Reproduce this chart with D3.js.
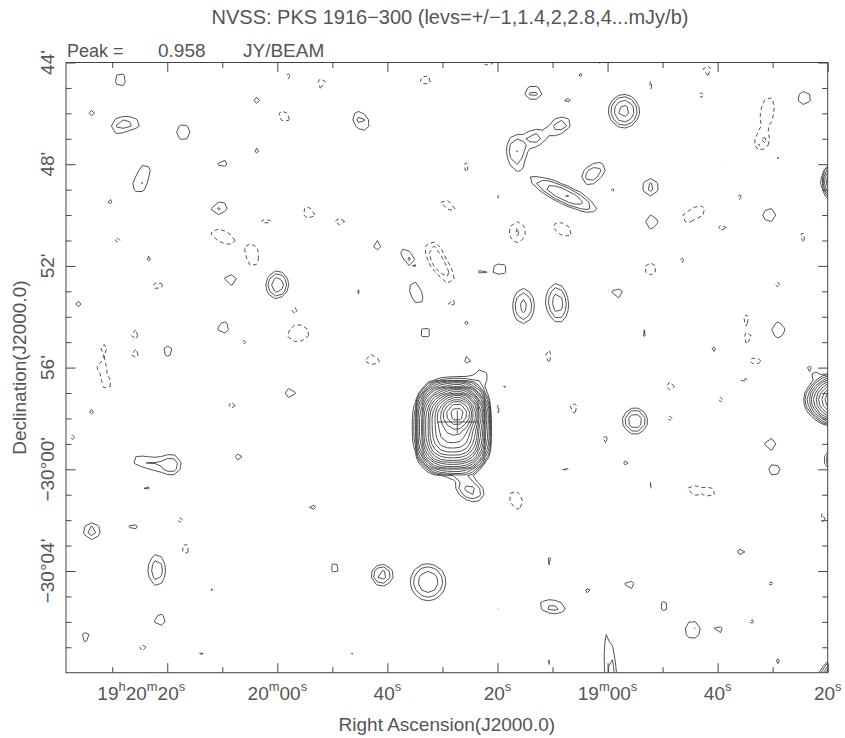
<!DOCTYPE html>
<html>
<head>
<meta charset="utf-8">
<script src="https://cdn.jsdelivr.net/npm/d3@7"></script>
<style>
  body { margin: 0; background: #fff; }
  text { font-family: "Liberation Sans", Arial, sans-serif; fill: #555; }
</style>
</head>
<body>
<div id="chart"></div>
<script>
// RA in seconds of time after 19h18m00s, Dec in arcmin relative to -30d00' (north positive)
const raRange = [158.4, 20];
const decRange = [16, -8];

const raMajorTicks = [140, 120, 100, 80, 60, 40, 20];
const raMinorTicks = [150, 130, 110, 90, 70, 50, 30];
const raTickLabels = ["19^h20^m20^s", "20^m00^s", "40^s", "20^s", "19^m00^s", "40^s", "20^s"];
const decMajorTicks = [16, 12, 8, 4, 0, -4];
const decMinorTicks = [15, 14, 13, 11, 10, 9, 7, 6, 5, 3, 2, 1, -1, -2, -3, -5, -6, -7];
const decTickLabels = ["44'", "48'", "52'", "56'", "\u221230\u00b000'", "\u221230\u00b004'"];

// contour levels, mJy/beam
const levels = [1, 1.4, 2, 2.8, 4, 5.6, 8, 11.3, 16, 22.6, 32, 45.3, 64, 90.5, 128, 181, 256, 362, 512, 724];

const peakFlux = 0.958; // Jy/beam
const targetMark = [87.3, 1.86];

// PKS 1916-300: compact core [ra, dec, peak, maj, min, pa]
// and boxy envelope [ra, dec, peak, a", b", box power, radial power]
const mainCore = [87.3, 2.21, 760, 45, 45, 0];
const mainEnvelope = [88.2, 1.66, 250, 46, 58, 3, 2.5];

// [ra s, dec ', peak mJy/b, FWHM major ", FWHM minor ", PA deg]  (default 45" beam)
const positiveSources = [
  [148.5, 15.31, 1.3, 55, 40, 0], [153.7, 14.02, 1.12], [149.1, 13.42, 1.15],
  [146.4, 13.62, 1.3, 60, 38, 75], [137.1, 13.26, 1.45, 50, 45, 0], [123.7, 14.52, 1.15],
  [123.7, 12.56, 1.1], [129.9, 12.03, 1.2, 50, 38, 120], [144.0, 11.81, 1.15],
  [145.1, 11.14, 1.35], [150.5, 10.55, 1.1], [130.6, 10.24, 1.5, 55, 40, 120],
  [143.3, 8.32, 1.1], [128.4, 7.46, 1.3, 55, 40, 60], [120.0, 7.25, 2.7, 55, 45, 0],
  [156.2, 6.50, 1.12], [129.7, 5.56, 1.35], [139.9, 4.65, 1.25],
  [104.8, 13.70, 1.6, 60, 42, 35], [73.5, 14.80, 1.6, 50, 40, 90], [67.3, 14.56, 1.15, 50, 30, 90],
  [76.6, 12.50, 2.0, 75, 45, 5], [73.1, 13.03, 1.6], [69.5, 13.34, 1.1],
  [67.3, 13.58, 1.45, 55, 35, 75], [67.9, 10.80, 2.9, 140, 34, 64], [63.3, 11.50, 1.5],
  [61.3, 11.85, 1.1], [57.0, 14.09, 3.3, 60, 55, 0],
  [52.2, 11.10, 1.6, 50, 45, 0], [52.0, 9.73, 1.35, 50, 45, 0], [58.2, 6.93, 1.25, 50, 40, 90],
  [30.6, 10.00, 1.42], [24.3, 14.60, 1.42], [39.3, 12.08, 1.08, 50, 30, 90],
  [45.0, 5.40, 1.12, 50, 30, 120], [29.0, 5.48, 1.4, 55, 45, 0], [53.3, 5.36, 1.1],
  [40.8, 4.69, 1.1], [29.0, 12.28, 1.1], [65.0, 15.55, 1.1],
  [17.7, 11.30, 16, 50, 45, 0], [16.8, 2.73, 60, 80, 55, 90], [23.1, 3.91, 1.2, 50, 25, 50],
  [18.4, 0.37, 3, 45, 45, 0], [17.3, -8.48, 15, 70, 60, 0], [59.3, -8.29, 1.8, 240, 30, 5],
  [55.0, 1.90, 2.8, 50, 48, 0], [30.4, 1.00, 1.3], [29.7, -0.03, 1.3],
  [139.1, 0.17, 1.8, 50, 45, 0], [145.0, 0.33, 1.25, 60, 35, 80], [142.0, 0.22, 0.8],
  [143.9, -0.70, 1.1], [127.0, 0.48, 1.15], [113.7, -1.48, 1.12], [117.7, 3.00, 1.25],
  [153.7, -2.43, 1.7], [146.2, -2.27, 1.15], [141.9, -3.96, 1.8, 80, 45, 0],
  [141.3, -5.93, 1.3], [125.3, -3.13, 1.08, 40, 25, 90], [109.5, -3.88, 1.2],
  [101.0, -4.16, 2.4], [92.6, -4.43, 2.8, 72, 68, 0], [70.4, -3.61, 1.12],
  [70.0, -5.41, 1.6, 75, 40, 80], [63.7, -4.75, 1.2], [56.0, -4.55, 1.2],
  [49.7, -5.38, 1.2], [44.6, -6.32, 1.5, 55, 45, 0], [39.8, -6.32, 1.15],
  [35.7, -3.25, 1.15], [42.6, -4.43, 1.08, 55, 20, 40], [154.8, -6.59, 1.2],
  [106.4, -7.26, 1.06, 45, 20, 130], [29.0, -7.58, 1.1], [153.7, 2.29, 1.1],
  [78.6, 3.20, 1.1], [97.1, 3.04, 1.1], [85.5, 4.34, 1.1],
  [85.7, 5.79, 1.1], [105.1, 6.97, 1.1, 50, 25, 0], [102.0, 8.82, 1.25, 50, 35, 40],
  [96.2, 8.35, 1.5, 65, 30, 40], [83.1, 7.80, 1.04], [79.3, 7.88, 1.25],
  [94.8, 6.93, 1.4, 80, 40, 20], [75.3, 6.42, 2.3, 75, 45, 0], [69.1, 6.54, 2.5, 80, 45, 5],
  [93.1, 5.36, 1.2], [85.0, -0.81, 2.3, 65, 45, 60], [82.8, 3.67, 1.2],
  [56.6, 0.25, 1.1]
];

const negativeSources = [
  [118.0, 15.43, 1.1], [118.8, 13.89, 1.25, 55, 40, 50], [114.4, 10.08, 1.3, 50, 40, 40],
  [130.0, 9.17, 1.35, 100, 45, 60], [122.0, 9.76, 1.15, 50, 35, 90], [124.4, 8.35, 1.25, 80, 40, 0],
  [148.9, 9.06, 1.12], [141.7, 7.21, 1.2], [146.0, 5.36, 1.12],
  [151.5, 4.81, 1.08], [145.9, 4.50, 1.12], [116.2, 5.32, 1.45, 70, 50, 100],
  [126.2, 5.01, 1.1], [117.0, 6.30, 1.1], [151.9, 4.02, 1.08],
  [111.9, 15.19, 1.2, 50, 40, 0], [93.1, 15.31, 1.25], [81.7, 16.02, 1.2],
  [85.7, 11.89, 1.15], [89.0, 10.39, 1.25, 80, 30, 50], [80.0, 10.67, 1.1, 40, 20, 0],
  [108.6, 9.73, 1.2, 70, 35, 55], [76.4, 9.33, 1.5, 65, 50, 0], [68.2, 9.45, 1.3, 80, 45, 60],
  [91.9, 8.70, 1.3], [89.1, 7.64, 1.35, 60, 40, 30], [91.0, 8.15, 1.2],
  [88.4, 6.54, 1.12], [102.8, 4.30, 1.3, 60, 40, 80], [70.8, 4.46, 1.2, 60, 35, 0],
  [61.1, 15.94, 1.1], [41.9, 15.70, 1.2], [52.2, 15.11, 1.12],
  [43.1, 14.68, 1.1], [31.0, 14.05, 1.35, 110, 50, 170], [31.9, 12.79, 1.25],
  [65.1, 13.34, 1.1], [59.1, 10.94, 1.1], [35.9, 10.67, 1.1],
  [43.0, 10.20, 1.1], [45.7, 9.88, 1.1], [39.1, 9.49, 1.15],
  [24.6, 9.14, 1.15, 55, 35, 30], [46.6, 8.19, 1.1], [52.2, 7.88, 1.35],
  [29.1, 7.29, 1.1], [25.0, 6.62, 1.1], [34.8, 5.95, 1.1],
  [34.4, 5.12, 1.12], [33.0, 4.26, 1.15, 55, 35, 80], [157.1, 1.27, 1.1],
  [151.0, 3.32, 1.1], [128.2, 2.53, 1.15], [95.9, 3.20, 1.1],
  [79.9, 2.41, 1.2, 55, 30, 0], [76.6, -1.21, 1.35, 70, 45, 20], [66.2, 2.41, 1.2],
  [60.6, 1.15, 1.15], [48.6, 3.28, 1.2], [48.6, 2.02, 1.1],
  [39.5, 2.73, 1.1], [35.3, 3.51, 1.1], [67.7, -0.03, 1.1],
  [52.0, -0.62, 1.1], [44.6, -0.81, 1.15], [41.1, -0.89, 1.1],
  [20.8, -1.91, 1.15], [136.8, -3.13, 1.2], [137.7, -1.99, 1.1],
  [132.2, -4.79, 1.12, 55, 30, 0], [131.1, -6.12, 1.1], [144.4, -7.03, 1.15],
  [133.7, -7.30, 1.1], [80.2, -5.38, 1.1], [70.4, -7.62, 1.1],
  [30.6, -4.47, 1.1], [34.0, -5.97, 1.1], [65.3, -4.16, 1.1],
  [90.8, -3.02, 1.1]
];

const width = 845, height = 738;
const plot = {left: 66, right: 827.7, top: 62.5, bottom: 672.7};
const fontSize = 19;

const x = d3.scaleLinear().domain(raRange).range([plot.left, plot.right]);
const y = d3.scaleLinear().domain(decRange).range([plot.top, plot.bottom]);

const svg = d3.select("#chart").append("svg")
  .attr("width", width)
  .attr("height", height)
  .style("background", "#fff");

svg.append("clipPath").attr("id", "plotClip")
  .append("rect")
  .attr("x", plot.left).attr("y", plot.top)
  .attr("width", plot.right - plot.left).attr("height", plot.bottom - plot.top);

// ---- model image on a 15" grid (NVSS pixels) ----
const cosDec = Math.cos(30 * Math.PI / 180);
const beam = 45;
const cellRA = 1 / cosDec;   // seconds of time per 15" pixel
const cellDec = 0.25;        // arcmin
const pad = 6;
const raStart = raRange[0] + pad * cellRA;
const decStart = decRange[0] + pad * cellDec;
const nx = Math.ceil((raRange[0] - raRange[1]) / cellRA) + 2 * pad;
const ny = Math.ceil((decRange[0] - decRange[1]) / cellDec) + 2 * pad;

function gauss(c, ra, dec) {
  const [r0, d0, p, maj = beam, min = beam, pa = 0] = c;
  const dx = (ra - r0) * 15 * cosDec, dy = (dec - d0) * 60;
  const t = pa * Math.PI / 180;
  const u = dx * Math.sin(t) + dy * Math.cos(t);
  const v = dx * Math.cos(t) - dy * Math.sin(t);
  const su = maj / 2.3548, sv = min / 2.3548;
  const q = u * u / (su * su) + v * v / (sv * sv);
  return q > 60 ? 0 : p * Math.exp(-0.5 * q);
}

function envelope(c, ra, dec) {
  const [r0, d0, p, a, b, k, m] = c;
  const dx = (ra - r0) * 15 * cosDec, dy = (dec - d0) * 60;
  const q = Math.pow(Math.pow(Math.abs(dx / a), k) + Math.pow(Math.abs(dy / b), k), 1 / k);
  const e = Math.pow(q, m);
  return e > 40 ? 0 : p * Math.exp(-e);
}

const posValues = new Float64Array(nx * ny);
const negValues = new Float64Array(nx * ny);
for (let j = 0; j < ny; j++) {
  const dec = decStart - j * cellDec;
  for (let i = 0; i < nx; i++) {
    const ra = raStart - i * cellRA;
    let v = gauss(mainCore, ra, dec) + envelope(mainEnvelope, ra, dec);
    positiveSources.forEach(c => { v += gauss(c, ra, dec); });
    negativeSources.forEach(c => { v -= gauss(c, ra, dec); });
    posValues[j * nx + i] = v;
    negValues[j * nx + i] = -v;
  }
}

// grid coordinate u is sample index u - 0.5
const gridToScreen = d3.geoTransform({
  point(u, v) {
    this.stream.point(x(raStart - (u - 0.5) * cellRA), y(decStart - (v - 0.5) * cellDec));
  }
});
const path = d3.geoPath(gridToScreen);

const contours = d3.contours().size([nx, ny]).thresholds(levels);

const map = svg.append("g")
  .attr("clip-path", "url(#plotClip)")
  .attr("fill", "none")
  .attr("stroke", "#333")
  .attr("stroke-width", 0.85);

map.selectAll("path.pos")
  .data(contours(posValues))
  .join("path")
  .attr("class", "pos")
  .attr("d", path);

map.selectAll("path.neg")
  .data(contours(negValues))
  .join("path")
  .attr("class", "neg")
  .attr("stroke-dasharray", "4,3")
  .attr("d", path);

// catalogue position cross
map.append("line")
  .attr("x1", x(targetMark[0] + 3.6)).attr("x2", x(targetMark[0] - 3.6))
  .attr("y1", y(targetMark[1])).attr("y2", y(targetMark[1]));
map.append("line")
  .attr("x1", x(targetMark[0])).attr("x2", x(targetMark[0]))
  .attr("y1", y(targetMark[1] + 0.45)).attr("y2", y(targetMark[1] - 0.45));

// ---- frame and ticks ----
svg.append("rect")
  .attr("x", plot.left).attr("y", plot.top)
  .attr("width", plot.right - plot.left).attr("height", plot.bottom - plot.top)
  .attr("fill", "none").attr("stroke", "#444").attr("stroke-width", 1);

function tickRow(axis, values, size, transform) {
  svg.append("g")
    .attr("transform", transform)
    .call(axis.tickValues(values).tickSize(-size).tickFormat(""))
    .call(g => g.select(".domain").remove())
    .selectAll("line").attr("stroke", "#444");
}
tickRow(d3.axisBottom(x), raMajorTicks, 9.5, `translate(0,${plot.bottom})`);
tickRow(d3.axisBottom(x), raMinorTicks, 5.5, `translate(0,${plot.bottom})`);
tickRow(d3.axisTop(x), raMajorTicks, 9.5, `translate(0,${plot.top})`);
tickRow(d3.axisTop(x), raMinorTicks, 5.5, `translate(0,${plot.top})`);
tickRow(d3.axisLeft(y), decMajorTicks, 9.5, `translate(${plot.left},0)`);
tickRow(d3.axisLeft(y), decMinorTicks, 5.5, `translate(${plot.left},0)`);
tickRow(d3.axisRight(y), decMajorTicks, 9.5, `translate(${plot.right},0)`);
tickRow(d3.axisRight(y), decMinorTicks, 5.5, `translate(${plot.right},0)`);

// text with ^x superscripts
function richText(sel, str, size) {
  let raised = false;
  for (let k = 0; k < str.length; k++) {
    if (str[k] === "^") {
      sel.append("tspan")
        .attr("font-size", size * 0.68)
        .attr("dy", raised ? 0 : -size * 0.45)
        .text(str[k + 1]);
      raised = true;
      k++;
    } else {
      let run = "";
      while (k < str.length && str[k] !== "^") run += str[k++];
      k--;
      sel.append("tspan")
        .attr("font-size", size)
        .attr("dy", raised ? size * 0.45 : 0)
        .text(run);
      raised = false;
    }
  }
}

svg.append("g").selectAll("text")
  .data(raMajorTicks)
  .join("text")
  .attr("x", d => x(d))
  .attr("y", 700)
  .attr("dx", (d, i) => i === 0 ? -26 : 0)
  .attr("text-anchor", "middle")
  .attr("font-size", fontSize)
  .each(function(d, i) { richText(d3.select(this), raTickLabels[i], fontSize); });

svg.append("g").selectAll("text")
  .data(decMajorTicks)
  .join("text")
  .attr("transform", d => `translate(54,${y(d)}) rotate(-90)`)
  .attr("text-anchor", "middle")
  .attr("font-size", fontSize)
  .text((d, i) => decTickLabels[i]);

// titles
svg.append("text")
  .attr("x", 450).attr("y", 24)
  .attr("text-anchor", "middle")
  .attr("font-size", 20)
  .text("NVSS: PKS 1916\u2212300 (levs=+/\u22121,1.4,2,2.8,4...mJy/b)");

svg.append("text").attr("x", 67).attr("y", 57).attr("font-size", 18).text("Peak =");
svg.append("text").attr("x", 158).attr("y", 57).attr("font-size", fontSize).text(peakFlux.toFixed(3));
svg.append("text").attr("x", 243).attr("y", 57).attr("font-size", fontSize).text("JY/BEAM");

svg.append("text")
  .attr("x", (plot.left + plot.right) / 2).attr("y", 731)
  .attr("text-anchor", "middle")
  .attr("font-size", fontSize)
  .text("Right Ascension(J2000.0)");

svg.append("text")
  .attr("transform", `translate(26,${(plot.top + plot.bottom) / 2}) rotate(-90)`)
  .attr("text-anchor", "middle")
  .attr("font-size", fontSize)
  .text("Declination(J2000.0)");
</script>
</body>
</html>
